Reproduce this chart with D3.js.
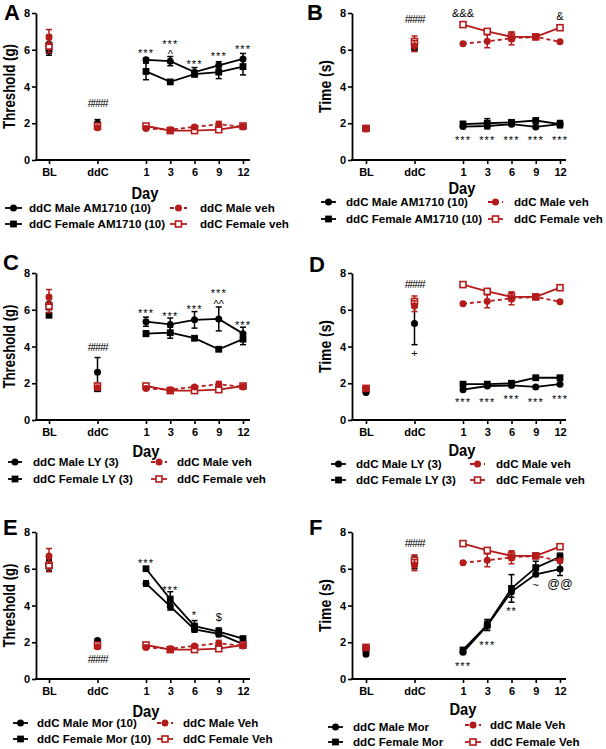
<!DOCTYPE html>
<html><head><meta charset="utf-8">
<script src="https://cdn.jsdelivr.net/npm/d3@7"></script>
<style>body{margin:0;background:#fff} svg{display:block}</style>
</head><body><svg id="c" width="606" height="749"></svg>
<script>
// ---------- DATA ----------
const xLabels = ["BL","ddC","1","3","6","9","12"];
const xIndex = [0,2,4,5,6,7,8];
const yTicks = [0,2,4,6,8];

// Threshold vehicle groups (A, C, E)
const thrMaleVeh      = [6.7, 1.75, 1.72, 1.65, 1.8, 1.95, 1.8];
const thrMaleVehErr   = [0.4, 0.1, 0.08, 0.08, 0.08, 0.15, 0.08];
const thrFemaleVeh    = [6.2, 1.85, 1.85, 1.6, 1.6, 1.65, 1.85];
const thrFemaleVehErr = [0.35, 0.1, 0.1, 0.1, 0.05, 0.05, 0.08];
// Time vehicle groups (B, D, F)
const timeMaleVeh      = [1.7, 6.2, 6.33, 6.46, 6.62, 6.7, 6.43];
const timeMaleVehErr   = [0.1, 0.3, 0.08, 0.35, 0.35, 0.1, 0.05];
const timeFemaleVeh    = [1.72, 6.45, 7.37, 7.0, 6.7, 6.7, 7.2];
const timeFemaleVehErr = [0.1, 0.3, 0.05, 0.1, 0.25, 0.1, 0.08];

// A: AM1710 threshold
const amThrMale      = [6.3, 2.0, 5.45, 5.38, 4.78, 5.15, 5.5];
const amThrMaleErr   = [0.5, 0.2, 0.1, 0.25, 0.25, 0.2, 0.3];
const amThrFemale    = [6.0, 1.9, 4.82, 4.25, 4.67, 4.78, 5.08];
const amThrFemaleErr = [0.3, 0.1, 0.45, 0.08, 0.08, 0.35, 0.45];
// B: AM1710 time
const amTimeMale      = [1.7, 6.1, 1.82, 1.85, 1.95, 1.8, 1.95];
const amTimeMaleErr   = [0.05, 0.15, 0.1, 0.15, 0.08, 0.08, 0.15];
const amTimeFemale    = [1.72, 6.3, 1.95, 2.0, 2.05, 2.15, 1.95];
const amTimeFemaleErr = [0.05, 0.2, 0.15, 0.25, 0.08, 0.08, 0.2];
// C: LY threshold
const lyThrMale      = [6.3, 2.6, 5.35, 5.2, 5.45, 5.5, 4.7];
const lyThrMaleErr   = [0.3, 0.8, 0.25, 0.35, 0.45, 0.65, 0.35];
const lyThrFemale    = [5.7, 1.7, 4.7, 4.75, 4.45, 3.85, 4.4];
const lyThrFemaleErr = [0.1, 0.1, 0.15, 0.3, 0.08, 0.08, 0.3];
// D: LY time
const lyTimeMale      = [1.5, 5.25, 1.65, 1.85, 1.88, 1.8, 1.95];
const lyTimeMaleErr   = [0.05, 1.15, 0.05, 0.05, 0.05, 0.05, 0.05];
const lyTimeFemale    = [1.65, 6.45, 1.95, 1.95, 2.0, 2.3, 2.3];
const lyTimeFemaleErr = [0.05, 0.1, 0.05, 0.05, 0.05, 0.08, 0.05];
// E: Morphine threshold
const morThrMale      = [6.2, 2.1, 5.2, 3.95, 2.7, 2.45, 1.9];
const morThrMaleErr   = [0.3, 0.08, 0.15, 0.2, 0.15, 0.15, 0.05];
const morThrFemale    = [6.15, 1.9, 6.0, 4.35, 2.88, 2.58, 2.2];
const morThrFemaleErr = [0.3, 0.08, 0.1, 0.4, 0.3, 0.2, 0.05];
// F: Morphine time
const morTimeMale      = [1.35, 6.3, 1.45, 2.9, 4.75, 5.7, 5.98];
const morTimeMaleErr   = [0.05, 0.3, 0.1, 0.25, 0.3, 0.1, 0.35];
const morTimeFemale    = [1.6, 6.4, 1.58, 2.94, 4.93, 6.06, 6.65];
const morTimeFemaleErr = [0.1, 0.3, 0.1, 0.3, 0.75, 0.35, 0.2];

const legendA = ["ddC Male AM1710 (10)","ddC Female AM1710 (10)","ddC Male veh","ddC Female veh"];
const legendC = ["ddC Male LY (3)","ddC Female LY (3)","ddC Male veh","ddC Female veh"];
const legendE = ["ddC Male Mor (10)","ddC Female Mor (10)","ddC Male Veh","ddC Female Veh"];
const legendF = ["ddC Male Mor","ddC Female Mor","ddC Male Veh","ddC Female Veh"];

// annotations: text, x index, y value
const annotA = [["####",2,3.1],["***",4,5.99],["***",5,6.45],["^",5,5.9],["***",6,5.39],["***",7,5.82],["***",8,6.2]];
const annotB = [["&&&",4,8.0],["&",8,7.84],["####",2,7.67],["***",4,1.25],["***",5,1.25],["***",6,1.25],["***",7,1.25],["***",8,1.25]];
const annotC = [["####",2,3.97],["***",4,5.99],["***",5,5.82],["***",6,6.2],["***",7,7.05],["^^",7,6.45],["***",8,5.33]];
const annotD = [["####",2,7.4],["+",2,3.59],["***",4,1.14],["***",5,1.14],["***",6,1.3],["***",7,1.14],["***",8,1.3]];
const annotE = [["####",2,1.09],["***",4,6.48],["***",5,5.0],["*",6,3.65],["$",7,3.37]];
const annotF = [["####",2,7.4],["***",4,0.87],["***",5,2.01],["**",6,3.86],["~",7,5.06],["@@",8,5.17]];

// ---------- DRAWING ----------
const RED = "#b41c1c";
const FONT = "'Liberation Sans', Arial, sans-serif";
const svg = d3.select("#c");

function ser(values, errs, color, shape, opts) {
  return Object.assign({values, errs, color, shape}, opts || {});
}

const panels = [
  {L:"A", ox:36, x0:49, x12:243, xEnd:250, yTop:13, yBot:160, title:"Threshold (g)", tLen:85, dayX:145, dayY:193,
   lx:[5,22,29], rx:[170,187,200], rows:[208,224], rows2:[208,224], legend:legendA, annot:annotA, letter:[4,20],
   series:[ser(amThrMale,amThrMaleErr,"#000","circle"), ser(amThrFemale,amThrFemaleErr,"#000","square"),
           ser(thrFemaleVeh,thrFemaleVehErr,RED,"square",{open:true}), ser(thrMaleVeh,thrMaleVehErr,RED,"circle",{dashed:true})]},
  {L:"B", ox:352, x0:366, x12:560, xEnd:566, yTop:13, yBot:160, title:"Time (s)", tLen:53, dayX:462, dayY:188,
   lx:[321,336,346], rx:[488,503,514], rows:[202,219], rows2:[202,219], legend:legendA, annot:annotB, letter:[307,20],
   series:[ser(amTimeMale,amTimeMaleErr,"#000","circle"), ser(amTimeFemale,amTimeFemaleErr,"#000","square"),
           ser(timeFemaleVeh,timeFemaleVehErr,RED,"square",{open:true}), ser(timeMaleVeh,timeMaleVehErr,RED,"circle",{dashed:true})]},
  {L:"C", ox:36, x0:49, x12:243, xEnd:250, yTop:273, yBot:420, title:"Threshold (g)", tLen:84, dayX:146, dayY:451,
   lx:[8,22,33], rx:[151,167,177], rows:[462,479], rows2:[462,479], legend:legendC, annot:annotC, letter:[3,270],
   series:[ser(lyThrMale,lyThrMaleErr,"#000","circle"), ser(lyThrFemale,lyThrFemaleErr,"#000","square"),
           ser(thrFemaleVeh,thrFemaleVehErr,RED,"square",{open:true}), ser(thrMaleVeh,thrMaleVehErr,RED,"circle",{dashed:true})]},
  {L:"D", ox:352, x0:366, x12:560, xEnd:566, yTop:273, yBot:420, title:"Time (s)", tLen:53, dayX:462, dayY:450,
   lx:[331,346,356], rx:[470,485,496], rows:[464,480], rows2:[464,480], legend:legendC, annot:annotD, letter:[309,272],
   series:[ser(lyTimeMale,lyTimeMaleErr,"#000","circle"), ser(lyTimeFemale,lyTimeFemaleErr,"#000","square"),
           ser(timeFemaleVeh,timeFemaleVehErr,RED,"square",{open:true}), ser(timeMaleVeh,timeMaleVehErr,RED,"circle",{dashed:true})]},
  {L:"E", ox:36, x0:49, x12:243, xEnd:250, yTop:532, yBot:679, title:"Threshold (g)", tLen:84, dayX:146, dayY:711,
   lx:[13,28,37], rx:[157,173,183], rows:[723,739], rows2:[723,739], legend:legendE, annot:annotE, letter:[3,535],
   series:[ser(morThrMale,morThrMaleErr,"#000","circle"), ser(morThrFemale,morThrFemaleErr,"#000","square"),
           ser(thrFemaleVeh,thrFemaleVehErr,RED,"square",{open:true}), ser(thrMaleVeh,thrMaleVehErr,RED,"circle",{dashed:true})]},
  {L:"F", ox:352, x0:366, x12:560, xEnd:566, yTop:532, yBot:679, title:"Time (s)", tLen:53, dayX:463, dayY:709,
   lx:[328,343,353], rx:[465,481,490], rows:[727,742], rows2:[725,742], legend:legendF, annot:annotF, letter:[309,535],
   series:[ser(morTimeMale,morTimeMaleErr,"#000","circle"), ser(morTimeFemale,morTimeFemaleErr,"#000","square"),
           ser(timeFemaleVeh,timeFemaleVehErr,RED,"square",{open:true}), ser(timeMaleVeh,timeMaleVehErr,RED,"circle",{dashed:true})]}
];

function marker(g, s, cx, cy) {
  if (s.shape === "circle") {
    g.append("circle").attr("cx",cx).attr("cy",cy).attr("r",3.5).attr("fill",s.color);
  } else {
    const a = s.open ? 6 : 6.8;
    g.append("rect").attr("x",cx-a/2).attr("y",cy-a/2).attr("width",a).attr("height",a)
      .attr("fill", s.open ? "#fff" : s.color).attr("stroke", s.open ? s.color : "none").attr("stroke-width",1.6);
  }
}

const glyphOff = {"*":0.6,"#":0.36,"^":0.55,"&":0.36,"+":0.3,"$":0.36,"~":0.28,"@":0.33};

panels.forEach(p => {
  const x = d3.scaleLinear().domain([0,8]).range([p.x0, p.x12]);
  const y = d3.scaleLinear().domain([0,8]).range([p.yBot, p.yTop]);
  const g = svg.append("g");

  // y axis
  const ya = g.append("g").attr("transform",`translate(${p.ox},0)`)
    .call(d3.axisLeft(y).tickValues(yTicks).tickSize(4).tickSizeOuter(0).tickPadding(2));
  ya.select(".domain").attr("stroke-width",1.8);
  ya.selectAll(".tick line").attr("stroke-width",1.6);
  ya.selectAll("text").attr("font-size",11).attr("font-weight","bold").attr("font-family",FONT).attr("fill","#000");

  // x axis
  const xa = g.append("g").attr("transform",`translate(0,${p.yBot})`)
    .call(d3.axisBottom(x).tickValues(xIndex).tickFormat((d,i)=>xLabels[i]).tickSize(4).tickPadding(4));
  xa.select(".domain").remove();
  xa.selectAll(".tick line").attr("stroke-width",1.6);
  xa.selectAll("text").attr("font-size",11).attr("font-weight","bold").attr("font-family",FONT).attr("fill","#000");
  g.append("line").attr("x1",p.ox-0.9).attr("x2",p.xEnd).attr("y1",p.yBot).attr("y2",p.yBot)
    .attr("stroke","#000").attr("stroke-width",1.8);

  // titles
  const my = (p.yTop + p.yBot)/2;
  g.append("text").attr("transform",`translate(${p.ox-21},${my}) rotate(-90)`).attr("text-anchor","middle")
    .attr("font-family",FONT).attr("font-weight","bold").attr("font-size",16.5)
    .attr("textLength",p.tLen).attr("lengthAdjust","spacingAndGlyphs").text(p.title);
  g.append("text").attr("x",p.dayX).attr("y",p.dayY+6).attr("text-anchor","middle")
    .attr("font-family",FONT).attr("font-weight","bold").attr("font-size",16.5)
    .attr("textLength",27).attr("lengthAdjust","spacingAndGlyphs").text("Day");
  g.append("text").attr("x",p.letter[0]).attr("y",p.letter[1]).attr("font-family",FONT)
    .attr("font-weight","bold").attr("font-size",22).text(p.L);

  // series
  p.series.forEach(s => {
    const pts = xIndex.map((xi,i)=>({xi, v:s.values[i], e:s.errs[i]}));
    g.append("path").datum(pts.slice(2)).attr("d", d3.line().x(d=>x(d.xi)).y(d=>y(d.v)))
      .attr("fill","none").attr("stroke",s.color).attr("stroke-width",1.8)
      .attr("stroke-dasharray", s.dashed ? "4,3" : null);
    pts.forEach(d => {
      const cx = x(d.xi);
      const eg = g.append("g").attr("stroke",s.color).attr("stroke-width",1.5);
      eg.append("line").attr("x1",cx).attr("x2",cx).attr("y1",y(d.v-d.e)).attr("y2",y(d.v+d.e));
      [d.v-d.e, d.v+d.e].forEach(v => eg.append("line").attr("x1",cx-3).attr("x2",cx+3).attr("y1",y(v)).attr("y2",y(v)));
    });
    pts.forEach(d => marker(g, s, x(d.xi), y(d.v)));
  });

  // annotations
  p.annot.forEach(([t, xi, v]) => {
    const fs = t[0] === "@" ? 12.5 : 11;
    const off = (glyphOff[t[0]] || 0.35) * fs;
    g.append("text").attr("x", x(xi)).attr("y", y(v) + off).attr("text-anchor","middle")
      .attr("font-family",FONT).attr("font-size",fs)
      .attr("letter-spacing", t[0]==="#" ? -1.2 : (t[0]==="*" ? 1 : 0))
      .text(t);
  });

  // legend
  const order = [
    {s:p.series[0], sx:p.lx, row:p.rows[0], label:p.legend[0]},
    {s:p.series[1], sx:p.lx, row:p.rows[1], label:p.legend[1]},
    {s:p.series[3], sx:p.rx, row:p.rows2[0], label:p.legend[2]},
    {s:p.series[2], sx:p.rx, row:p.rows2[1], label:p.legend[3]}
  ];
  order.forEach(o => {
    const lg = g.append("g");
    lg.append("line").attr("x1",o.sx[0]).attr("x2",o.sx[1]).attr("y1",o.row).attr("y2",o.row)
      .attr("stroke",o.s.color).attr("stroke-width",1.8).attr("stroke-dasharray", o.s.dashed ? "4,3" : null);
    marker(lg, o.s, (o.sx[0]+o.sx[1])/2, o.row);
    lg.append("text").attr("x",o.sx[2]).attr("y",o.row+4.2).attr("font-family",FONT)
      .attr("font-weight","bold").attr("font-size",11.6).text(o.label);
  });
});
</script></body></html>
